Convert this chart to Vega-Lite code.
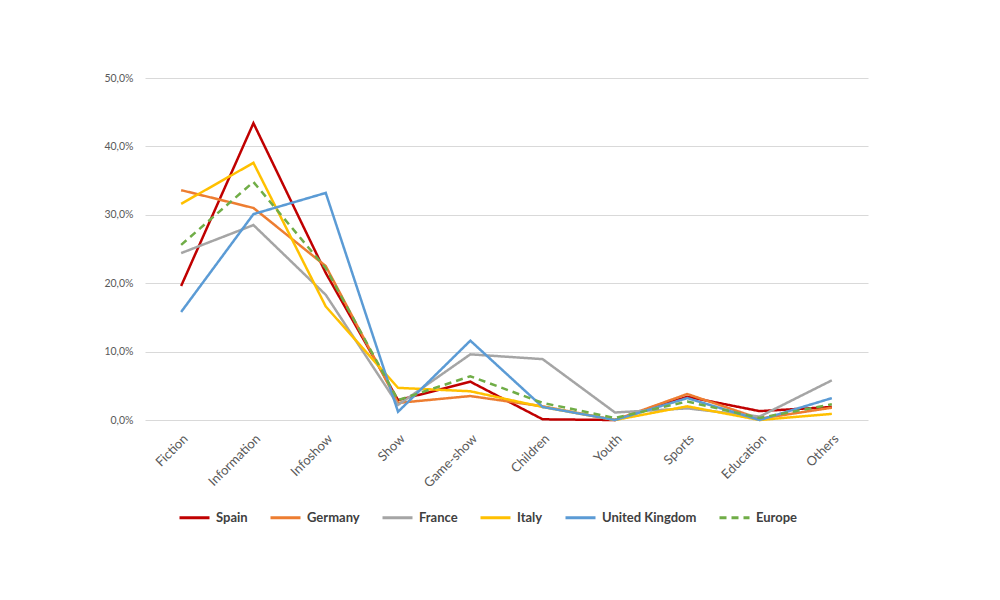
{
  "$schema": "https://vega.github.io/schema/vega-lite/v6.json",
  "width": 723,
  "height": 342,
  "autosize": {"type": "none"},
  "padding": {"left": 145, "top": 78, "right": 132, "bottom": 180},
  "background": "white",
  "config": {
    "font": "Lato",
    "view": {"stroke": null},
    "axis": {"labelFont": "Lato", "labelColor": "#595959", "ticks": false, "domain": false, "title": null}
  },
  "data": {"values": [
    {"genre": "Fiction", "country": "Spain", "v": 0.196},
    {"genre": "Information", "country": "Spain", "v": 0.434},
    {"genre": "Infoshow", "country": "Spain", "v": 0.215},
    {"genre": "Show", "country": "Spain", "v": 0.029},
    {"genre": "Game-show", "country": "Spain", "v": 0.056},
    {"genre": "Children", "country": "Spain", "v": 0.001},
    {"genre": "Youth", "country": "Spain", "v": 0.0},
    {"genre": "Sports", "country": "Spain", "v": 0.034},
    {"genre": "Education", "country": "Spain", "v": 0.013},
    {"genre": "Others", "country": "Spain", "v": 0.019},

    {"genre": "Fiction", "country": "Germany", "v": 0.336},
    {"genre": "Information", "country": "Germany", "v": 0.310},
    {"genre": "Infoshow", "country": "Germany", "v": 0.225},
    {"genre": "Show", "country": "Germany", "v": 0.025},
    {"genre": "Game-show", "country": "Germany", "v": 0.035},
    {"genre": "Children", "country": "Germany", "v": 0.020},
    {"genre": "Youth", "country": "Germany", "v": 0.0},
    {"genre": "Sports", "country": "Germany", "v": 0.038},
    {"genre": "Education", "country": "Germany", "v": 0.002},
    {"genre": "Others", "country": "Germany", "v": 0.018},

    {"genre": "Fiction", "country": "France", "v": 0.244},
    {"genre": "Information", "country": "France", "v": 0.285},
    {"genre": "Infoshow", "country": "France", "v": 0.183},
    {"genre": "Show", "country": "France", "v": 0.022},
    {"genre": "Game-show", "country": "France", "v": 0.096},
    {"genre": "Children", "country": "France", "v": 0.089},
    {"genre": "Youth", "country": "France", "v": 0.011},
    {"genre": "Sports", "country": "France", "v": 0.017},
    {"genre": "Education", "country": "France", "v": 0.005},
    {"genre": "Others", "country": "France", "v": 0.058},

    {"genre": "Fiction", "country": "Italy", "v": 0.316},
    {"genre": "Information", "country": "Italy", "v": 0.376},
    {"genre": "Infoshow", "country": "Italy", "v": 0.166},
    {"genre": "Show", "country": "Italy", "v": 0.047},
    {"genre": "Game-show", "country": "Italy", "v": 0.042},
    {"genre": "Children", "country": "Italy", "v": 0.019},
    {"genre": "Youth", "country": "Italy", "v": 0.0},
    {"genre": "Sports", "country": "Italy", "v": 0.020},
    {"genre": "Education", "country": "Italy", "v": 0.0},
    {"genre": "Others", "country": "Italy", "v": 0.009},

    {"genre": "Fiction", "country": "United Kingdom", "v": 0.158},
    {"genre": "Information", "country": "United Kingdom", "v": 0.301},
    {"genre": "Infoshow", "country": "United Kingdom", "v": 0.332},
    {"genre": "Show", "country": "United Kingdom", "v": 0.012},
    {"genre": "Game-show", "country": "United Kingdom", "v": 0.116},
    {"genre": "Children", "country": "United Kingdom", "v": 0.019},
    {"genre": "Youth", "country": "United Kingdom", "v": 0.0},
    {"genre": "Sports", "country": "United Kingdom", "v": 0.032},
    {"genre": "Education", "country": "United Kingdom", "v": 0.0},
    {"genre": "Others", "country": "United Kingdom", "v": 0.032},

    {"genre": "Fiction", "country": "Europe", "v": 0.256},
    {"genre": "Information", "country": "Europe", "v": 0.348},
    {"genre": "Infoshow", "country": "Europe", "v": 0.222},
    {"genre": "Show", "country": "Europe", "v": 0.029},
    {"genre": "Game-show", "country": "Europe", "v": 0.064},
    {"genre": "Children", "country": "Europe", "v": 0.025},
    {"genre": "Youth", "country": "Europe", "v": 0.003},
    {"genre": "Sports", "country": "Europe", "v": 0.027},
    {"genre": "Education", "country": "Europe", "v": 0.003},
    {"genre": "Others", "country": "Europe", "v": 0.023}
  ]},
  "mark": {"type": "line", "strokeWidth": 2.5},
  "encoding": {
    "x": {
      "field": "genre", "type": "nominal", "sort": null,
      "scale": {"type": "point", "padding": 0.5},
      "axis": {"labelAngle": -45, "labelFontSize": 13, "labelPadding": 12, "grid": false}
    },
    "y": {
      "field": "v", "type": "quantitative",
      "scale": {"domain": [0, 0.5], "nice": false},
      "axis": {"values": [0, 0.1, 0.2, 0.3, 0.4, 0.5], "labelExpr": "replace(format(datum.value, '.1%'), '.', ',')", "labelFontSize": 10.5, "labelPadding": 12, "grid": true, "gridColor": "#d9d9d9", "gridWidth": 1}
    },
    "color": {
      "field": "country", "type": "nominal",
      "scale": {"domain": ["Spain", "Germany", "France", "Italy", "United Kingdom", "Europe"], "range": ["#C00000", "#ED7D31", "#A5A5A5", "#FFC000", "#5B9BD5", "#70AD47"]},
      "legend": {
        "title": null, "orient": "none", "direction": "horizontal", "legendX": 33, "legendY": 423,
        "symbolType": "stroke", "symbolStrokeWidth": 3, "symbolSize": 900,
        "labelFontSize": 13, "labelFontWeight": "bold", "labelColor": "#404040", "labelOffset": 5, "columnPadding": 16
      }
    },
    "strokeDash": {
      "field": "country", "type": "nominal",
      "scale": {"domain": ["Spain", "Germany", "France", "Italy", "United Kingdom", "Europe"], "range": [[1, 0], [1, 0], [1, 0], [1, 0], [1, 0], [7, 5]]},
      "legend": {
        "title": null, "orient": "none", "direction": "horizontal", "legendX": 33, "legendY": 423,
        "symbolType": "stroke", "symbolStrokeWidth": 3, "symbolSize": 900,
        "labelFontSize": 13, "labelFontWeight": "bold", "labelColor": "#404040", "labelOffset": 5, "columnPadding": 16
      }
    }
  }
}
